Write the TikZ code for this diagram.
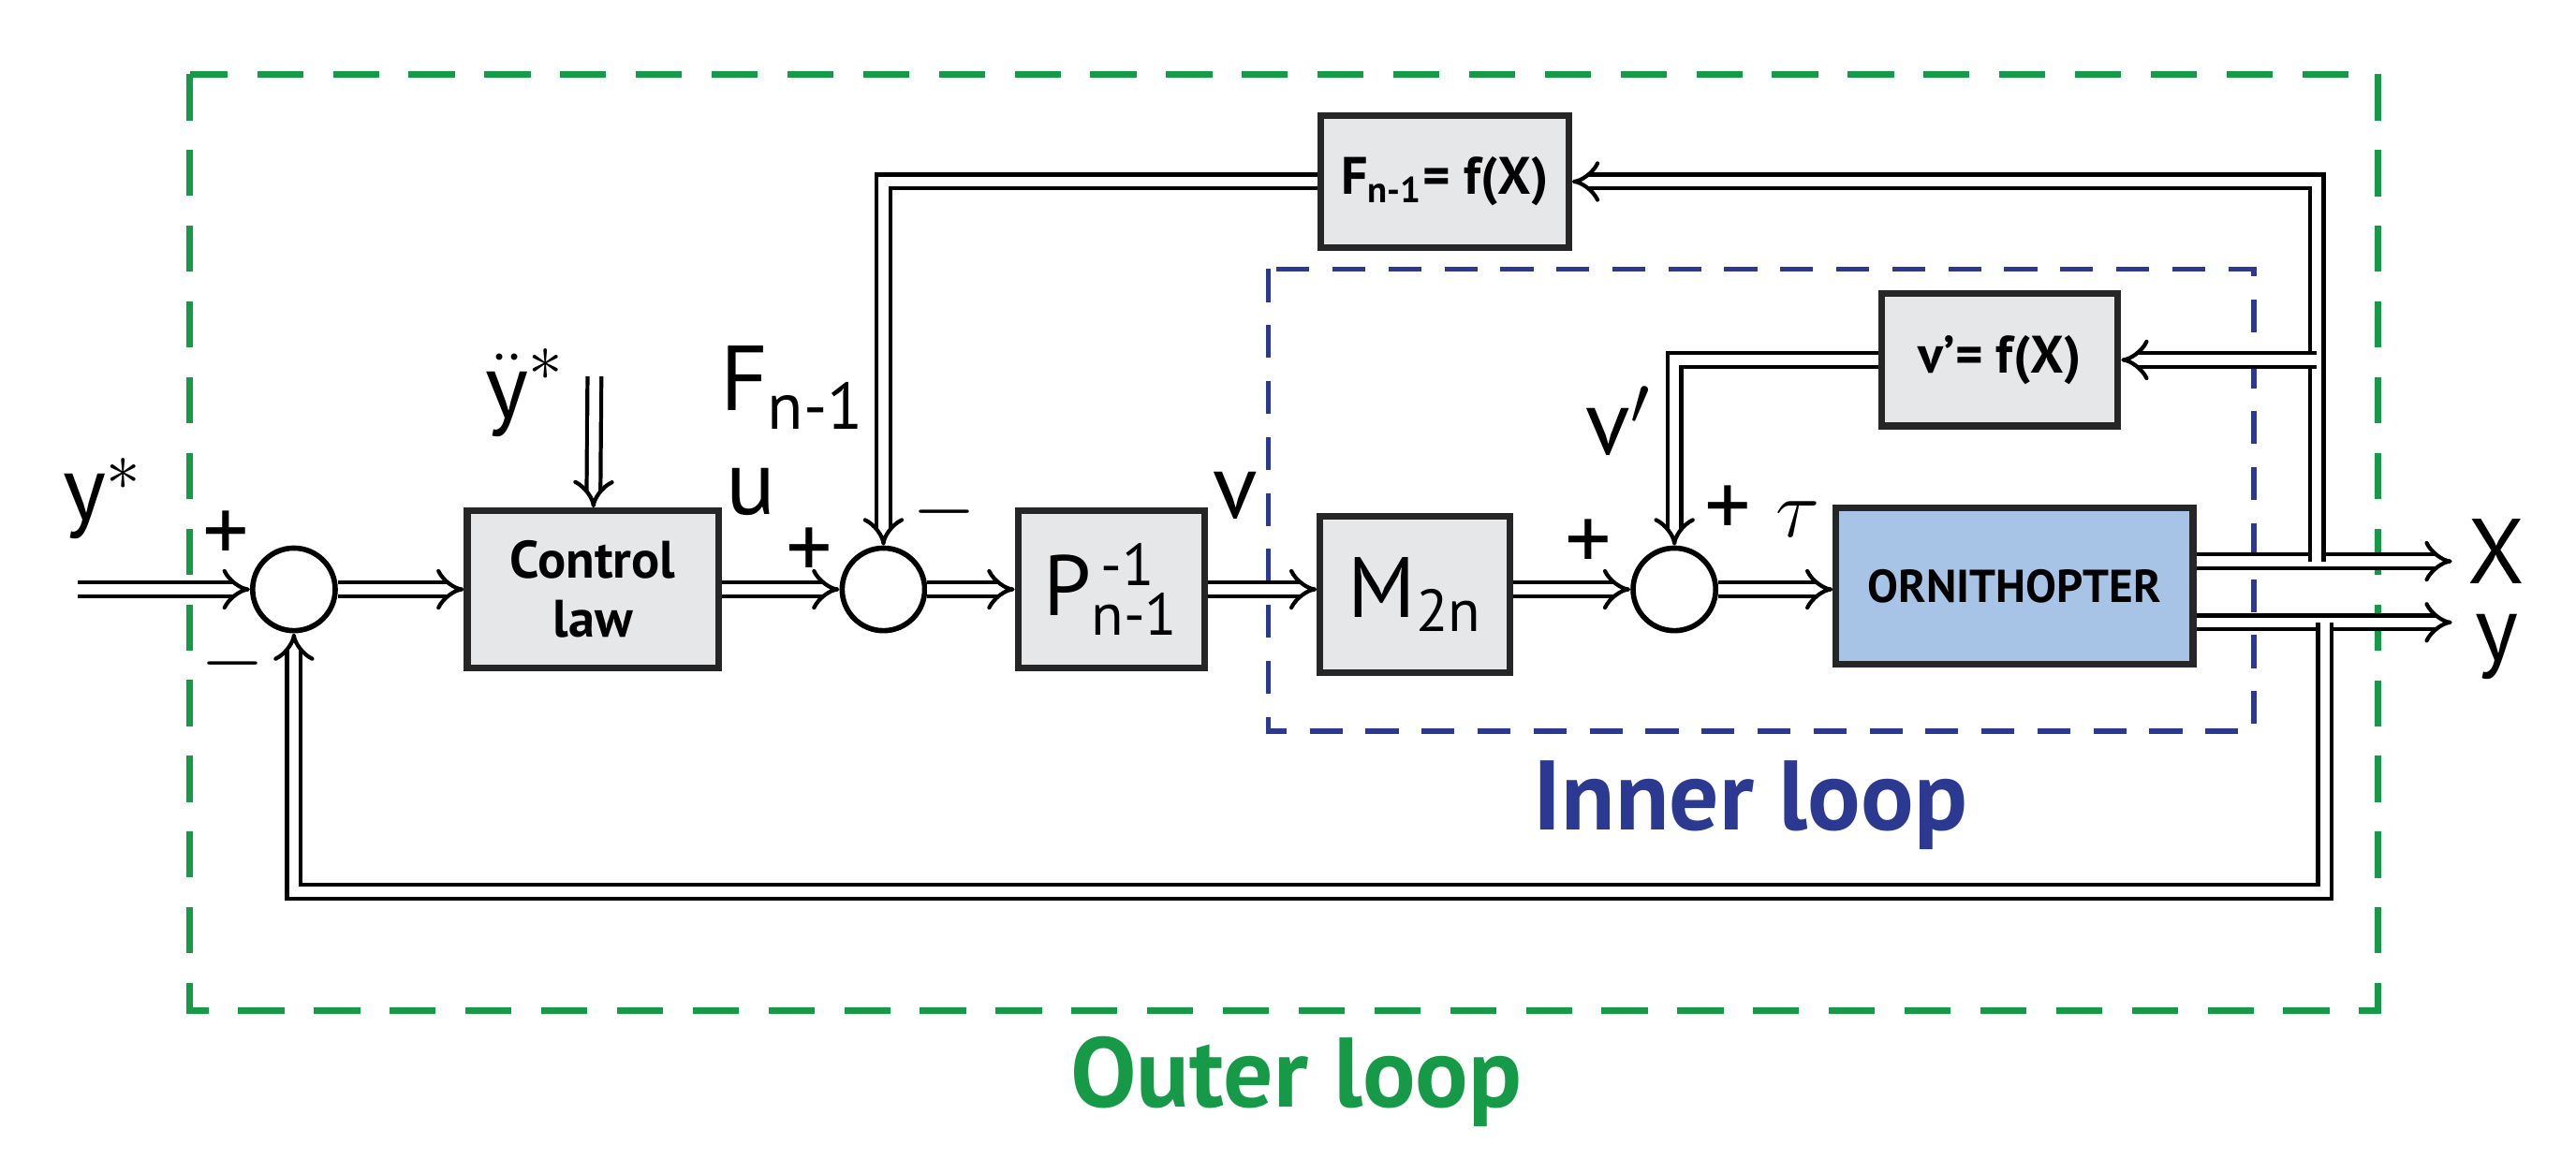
\documentclass[tikz,border=0pt]{standalone}
\usepackage{fontspec}
\setmainfont{PT Sans}
\usetikzlibrary{arrows.meta}
\definecolor{og}{HTML}{169A48}
\definecolor{ib}{HTML}{2B3990}
\definecolor{ob}{HTML}{A7C3E6}
\definecolor{bg}{HTML}{E6E7E8}
\def\ux{0.5017pt}
\tikzset{
 box/.style={draw=black!85, line width=2pt, fill=bg, font=\bfseries\fontsize{16}{18}\selectfont, align=center, inner sep=0pt},
 sum/.style={draw=black, line width=1.6pt, circle, minimum size=50*\ux, inner sep=0pt, fill=white},
 dbl/.style={double=white, double distance=3pt, line width=1.2pt, -{Implies[length=6pt]}},
 lbl/.style={font=\fontsize{28}{32}\selectfont},
}
\begin{document}
\begin{tikzpicture}[x=0.01763cm,y=-0.01763cm]
\useasboundingbox (0,0) rectangle (1560,701.6);
% loops
\draw[og, line width=2pt, dash pattern=on 14pt off 9pt] (115,45) rectangle (1440,612);
\draw[ib, line width=1.6pt, dash pattern=on 10pt off 7pt] (768,163) rectangle (1365,443);
\node[og, font=\bfseries\fontsize{30}{34}\selectfont] (ol) at (785,655) {Outer loop};
\node[ib, font=\bfseries\fontsize{30}{34}\selectfont] (il) at (1060,488) {Inner loop};
% blocks
\node[sum] (s1) at (178,357) {};
\node[box, minimum width=152*\ux, minimum height=95*\ux] (cl) at (359,357) {Control\\law};
\node[sum] (s2) at (535,357) {};
\node[box, minimum width=113*\ux, minimum height=95*\ux, font=\fontsize{26}{30}\selectfont] (P) at (673,357) {P$^{\,\mbox{\fontsize{18}{20}\selectfont -1}}_{\mbox{\fontsize{18}{20}\selectfont n-1}}$};
\node[box, minimum width=115*\ux, minimum height=95*\ux, font=\fontsize{26}{30}\selectfont] (M) at (857,360) {M$_{\mbox{\fontsize{18}{20}\selectfont 2n}}$};
\node[sum] (s3) at (1014,357) {};
\node[box, fill=ob, minimum width=216*\ux, minimum height=95*\ux, font=\bfseries\fontsize{14}{16}\selectfont] (orn) at (1220,355) {ORNITHOPTER};
\node[box, minimum width=150*\ux, minimum height=80*\ux] (F) at (875,110) {F$_{\mbox{\bfseries\fontsize{11}{12}\selectfont n-1}}$= f(X)};
\node[box, minimum width=143*\ux, minimum height=80*\ux] (vp) at (1211,218) {v'= f(X)};
% coordinates
\coordinate (yin) at (47,357);
\coordinate (ydd) at (360,228);
\coordinate (Xo) at (1485,340);
\coordinate (yo) at (1485,377);
\coordinate (bX) at (1403,340);
\coordinate (by) at (1408,377);
\coordinate (bl) at (178,540);
% connectors
\draw[dbl] (yin) -- (s1);
\draw[dbl] (s1) -- (cl);
\draw[dbl] (cl) -- (s2);
\draw[dbl] (s2) -- (P);
\draw[dbl] (P.east) -- (P.east -| M.west);
\draw[dbl] (M.east |- s3) -- (s3);
\draw[dbl] (s3) -- (orn.west |- s3);
\draw[dbl] (ydd) -- (cl);
\draw[dbl] (orn.east |- Xo) -- (Xo);
\draw[dbl] (orn.east |- yo) -- (yo);
\draw[dbl] (bX) |- (F.east);
\draw[dbl] (bX |- vp.east) -- (vp.east);
\draw[dbl] (F.west) -| (s2);
\draw[dbl] (vp.west) -| (s3);
\draw[dbl] (by) |- (bl) -- (s1);
% labels
\node[lbl] (lys) at (62,302) {y$^*$};
\node[lbl] (lyd) at (318,238) {$\ddot{\mbox{y}}^{*}$};
\node[lbl] (p1) at (137,325) {+};
\node[lbl] (m1) at (141,402) {$-$};
\node[lbl] (lu) at (455,298) {u};
\node[lbl] (p2) at (490,335) {+};
\node[lbl] (m2) at (572,310) {$-$};
\node[lbl] (lF) at (480,235) {F$_{\mbox{\fontsize{20}{22}\selectfont n-1}}$};
\node[lbl] (lv) at (748,300) {v};
\node[lbl] (p3) at (962,330) {+};
\node[lbl] (lt) at (1067,310) {+ $\tau$};
\node[lbl] (lvp) at (980,255) {v$'$};
\node[lbl] (lX) at (1512,334) {X};
\node[lbl] (ly) at (1512,392) {y};
\end{tikzpicture}
\end{document}
